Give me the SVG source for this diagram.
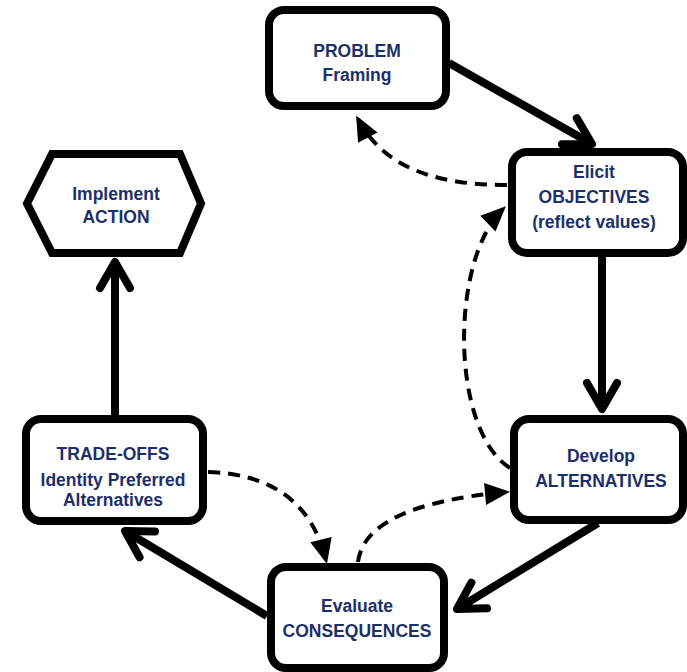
<svg xmlns="http://www.w3.org/2000/svg" width="687" height="672" viewBox="0 0 687 672">
<style>
.box{fill:#fff;stroke:#000;stroke-width:8;stroke-linejoin:round}
.lbl{font-family:"Liberation Sans",Arial,sans-serif;font-weight:bold;font-size:17.5px;fill:#1c2f6b;text-anchor:middle}
.solid{fill:none;stroke:#000;stroke-width:8}
.dash{fill:none;stroke:#000;stroke-width:4;stroke-dasharray:12 8}
</style>
<defs>
<marker id="vee" markerUnits="userSpaceOnUse" markerWidth="40" markerHeight="40" refX="0" refY="0" orient="auto" overflow="visible">
<path d="M -26 -15 L 0 0 L -26 15" fill="none" stroke="#000" stroke-width="8" stroke-linecap="round" stroke-linejoin="round"/>
</marker>
<marker id="tri" markerUnits="userSpaceOnUse" markerWidth="40" markerHeight="40" refX="0" refY="0" orient="auto" overflow="visible">
<path d="M -21 -11 L 4 0 L -21 11 Z" fill="#000"/>
</marker>
</defs>
<g id="connectors">
<path class="solid" d="M 449 63 L 592 144" marker-end="url(#vee)"/>
<path class="solid" d="M 602 257 L 602 409" marker-end="url(#vee)"/>
<path class="solid" d="M 598 523 L 457 609" marker-end="url(#vee)"/>
<path class="solid" d="M 267 616 L 125 531" marker-end="url(#vee)"/>
<path class="solid" d="M 115 419 L 115 262" marker-end="url(#vee)"/>
<path class="dash" d="M 507 185 C 440 185, 385 170, 358 119" marker-end="url(#tri)"/>
<path class="dash" d="M 510 468 C 450 430, 450 260, 503 209" marker-end="url(#tri)"/>
<path class="dash" d="M 208 472 Q 305 475 326 560" marker-end="url(#tri)"/>
<path class="dash" d="M 358 562 Q 365 505 506 492" marker-end="url(#tri)"/>
</g>
<g id="problem">
<rect class="box" x="269" y="10" width="177" height="96" rx="15"/>
<text class="lbl" x="357" y="57">PROBLEM</text>
<text class="lbl" x="357" y="81">Framing</text>
</g>
<g id="objectives">
<rect class="box" x="512" y="152" width="171" height="101" rx="15"/>
<text class="lbl" x="594" y="178">Elicit</text>
<text class="lbl" x="594" y="203">OBJECTIVES</text>
<text class="lbl" x="594" y="228">(reflect values)</text>
</g>
<g id="alternatives">
<rect class="box" x="514" y="419" width="169" height="101" rx="15"/>
<text class="lbl" x="601" y="462">Develop</text>
<text class="lbl" x="601" y="487">ALTERNATIVES</text>
</g>
<g id="consequences">
<rect class="box" x="271" y="567" width="173" height="101" rx="15"/>
<text class="lbl" x="357" y="612">Evaluate</text>
<text class="lbl" x="357" y="637">CONSEQUENCES</text>
</g>
<g id="tradeoffs">
<rect class="box" x="26" y="419" width="177" height="102" rx="15"/>
<text class="lbl" x="113" y="460">TRADE-OFFS</text>
<text class="lbl" x="113" y="486">Identity Preferred</text>
<text class="lbl" x="113" y="506">Alternatives</text>
</g>
<g id="action">
<polygon class="box" points="52,154 180,154 201,203.5 180,253 52,253 27,203.5" style="stroke-linejoin:miter"/>
<text class="lbl" x="116" y="200">Implement</text>
<text class="lbl" x="116" y="223">ACTION</text>
</g>
</svg>
